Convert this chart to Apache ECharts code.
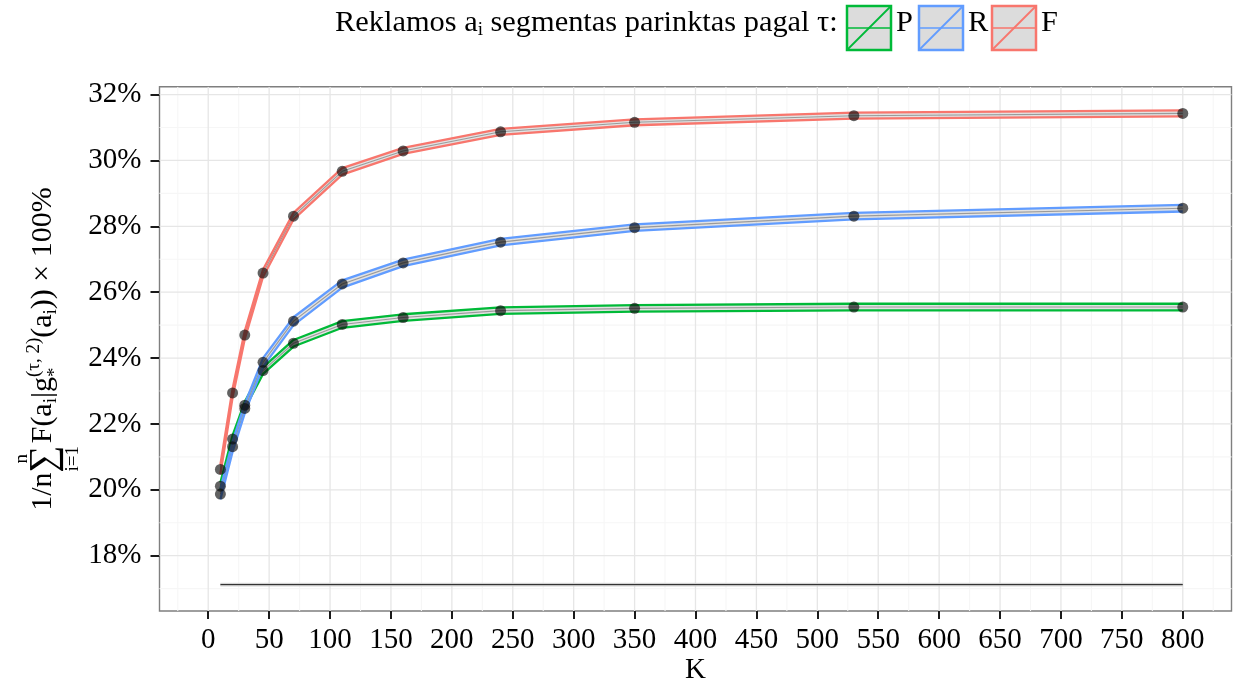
<!DOCTYPE html>
<html>
<head>
<meta charset="utf-8">
<script src="https://cdn.jsdelivr.net/npm/echarts@6/dist/echarts.min.js"></script>
<style>
  html, body { margin: 0; padding: 0; background: #ffffff; }
  #chart { width: 1233px; height: 682px; }
</style>
</head>
<body>
<div id="chart"></div>
<script>
// Segment size K on the horizontal axis
const K = [10, 20, 30, 45, 70, 110, 160, 240, 350, 530, 800];

// Mean share (in %) for each segment selection rule
const valuesP = [20.11, 21.54, 22.57, 23.62, 24.45, 25.02, 25.23, 25.44, 25.51, 25.55, 25.55];
const valuesR = [19.87, 21.31, 22.47, 23.87, 25.12, 26.25, 26.89, 27.52, 27.96, 28.31, 28.55];
const valuesF = [20.62, 22.94, 24.70, 26.58, 28.31, 29.67, 30.29, 30.87, 31.16, 31.36, 31.43];

// Half widths of the confidence bands (in %)
const halfP = [0.11, 0.11, 0.10, 0.10, 0.10, 0.10, 0.10, 0.10, 0.10, 0.10, 0.10];
const halfR = [0.16, 0.15, 0.14, 0.13, 0.12, 0.11, 0.10, 0.10, 0.10, 0.10, 0.10];
const halfF = [0.14, 0.13, 0.12, 0.11, 0.10, 0.10, 0.09, 0.09, 0.09, 0.09, 0.09];

// Reference level (random segment choice)
const baseline = [17.12, 17.12, 17.12, 17.12, 17.12, 17.12, 17.12, 17.12, 17.12, 17.12, 17.12];
const baselineHalf = [0.04, 0.04, 0.04, 0.04, 0.04, 0.04, 0.04, 0.04, 0.04, 0.04, 0.04];

// Tick labels
const xTicks = [0, 50, 100, 150, 200, 250, 300, 350, 400, 450, 500, 550, 600, 650, 700, 750, 800];
const yTicks = [18, 20, 22, 24, 26, 28, 30, 32];

const groups = [
  { name: 'P', color: '#00BA38', values: valuesP, half: halfP },
  { name: 'R', color: '#619CFF', values: valuesR, half: halfR },
  { name: 'F', color: '#F8766D', values: valuesF, half: halfF }
];

// Axis limits
const X_MIN = -40, X_MAX = 840;
const Y_MIN = 16.32, Y_MAX = 32.24;

const FONT = '"Liberation Serif", "Times New Roman", "DejaVu Serif", serif';
const BASE = 29;

// ---- grid lines (major on ticks, minor halfway between) ----
function minorOf(ticks) {
  const step = ticks[1] - ticks[0];
  const out = [ticks[0] - step / 2];
  for (let i = 0; i < ticks.length; i++) out.push(ticks[i] + step / 2);
  return out;
}
const gridData = [];
minorOf(xTicks).forEach(v => { if (v > X_MIN && v < X_MAX) gridData.push({ dir: 'x', v, major: false }); });
minorOf(yTicks).forEach(v => { if (v > Y_MIN && v < Y_MAX) gridData.push({ dir: 'y', v, major: false }); });
xTicks.forEach(v => gridData.push({ dir: 'x', v, major: true }));
yTicks.forEach(v => gridData.push({ dir: 'y', v, major: true }));

const series = [];
series.push({
  type: 'custom',
  z: 1,
  silent: true,
  clip: true,
  data: gridData.map(d => d.dir === 'x' ? [d.v, Y_MIN] : [X_MIN, d.v]),
  renderItem(params, api) {
    const d = gridData[params.dataIndex];
    let p1, p2;
    if (d.dir === 'x') { p1 = api.coord([d.v, Y_MIN]); p2 = api.coord([d.v, Y_MAX]); }
    else { p1 = api.coord([X_MIN, d.v]); p2 = api.coord([X_MAX, d.v]); }
    return {
      type: 'line',
      shape: { x1: p1[0], y1: p1[1], x2: p2[0], y2: p2[1] },
      style: { stroke: d.major ? '#e6e6e6' : '#f6f6f6', lineWidth: d.major ? 1.3 : 1.1 }
    };
  }
});

// ---- confidence band with edges and centre line for one group ----
function addBand(values, half, st) {
  const lower = values.map((v, i) => v - half[i]);
  const upper = values.map((v, i) => v + half[i]);
  series.push({
    type: 'custom',
    z: 2,
    silent: true,
    clip: true,
    data: K.map((k, i) => [k, lower[i], upper[i], values[i]]),
    encode: { x: 0, y: [1, 2] },
    renderItem(params, api) {
      if (params.dataIndex !== 0) return null;
      const top = K.map((k, i) => api.coord([k, upper[i]]));
      const bot = K.map((k, i) => api.coord([k, lower[i]]));
      const mid = K.map((k, i) => api.coord([k, values[i]]));
      return {
        type: 'group',
        children: [
          { type: 'polygon', shape: { points: top.concat(bot.slice().reverse()) },
            style: { fill: st.fill, opacity: st.fillOpacity, stroke: null } },
          { type: 'polyline', shape: { points: mid },
            style: { stroke: st.center, lineWidth: st.centerWidth, fill: null, lineJoin: 'round' } },
          { type: 'polyline', shape: { points: top },
            style: { stroke: st.edge, lineWidth: st.edgeWidth, fill: null, lineJoin: 'round' } },
          { type: 'polyline', shape: { points: bot },
            style: { stroke: st.edge, lineWidth: st.edgeWidth, fill: null, lineJoin: 'round' } }
        ]
      };
    }
  });
}

addBand(baseline, baselineHalf, {
  fill: '#cfcfcf', fillOpacity: 0.8, edge: '#d0d0d0', edgeWidth: 1,
  center: '#333333', centerWidth: 1.4
});
groups.forEach(g => addBand(g.values, g.half, {
  fill: '#d6d6d6', fillOpacity: 0.7, edge: g.color, edgeWidth: 2.3,
  center: '#9a9a9a', centerWidth: 1.1
}));

groups.forEach(g => {
  series.push({
    type: 'scatter',
    z: 5,
    silent: true,
    symbol: 'circle',
    symbolSize: 11,
    itemStyle: { color: 'rgba(10,10,10,0.8)' },
    data: K.map((k, i) => [k, g.values[i]])
  });
});

// ---- text helpers (plain and sub/superscripted runs) ----
const measureCtx = document.createElement('canvas').getContext('2d');
function textWidth(t, size) {
  measureCtx.font = size + 'px ' + FONT;
  return measureCtx.measureText(t).width;
}
function textEl(t, x, y, size) {
  return {
    type: 'text', x, y, silent: true,
    style: { text: t, font: size + 'px ' + FONT, fill: '#000', align: 'left', verticalAlign: 'middle' }
  };
}
// pieces: {t, s, dy} | {stack: true, main, ms, mdy, above, below, ss, ady, bdy} | {script: true, sup, sub, ss, supDy, subDy}
function layoutRun(pieces, base) {
  const els = [];
  let x = 0;
  pieces.forEach(p => {
    if (p.stack) {
      const wm = textWidth(p.main, p.ms), wa = textWidth(p.above, p.ss), wb = textWidth(p.below, p.ss);
      const w = Math.max(wm, wa, wb);
      els.push(textEl(p.main, x + (w - wm) / 2, p.mdy, p.ms));
      els.push(textEl(p.above, x + (w - wa) / 2, p.ady, p.ss));
      els.push(textEl(p.below, x + (w - wb) / 2, p.bdy, p.ss));
      x += w + 2;
    } else if (p.script) {
      const wa = textWidth(p.sup, p.ss), wb = textWidth(p.sub, p.ss);
      els.push(textEl(p.sup, x, p.supDy, p.ss));
      els.push(textEl(p.sub, x, p.subDy, p.ss));
      x += Math.max(wa, wb);
    } else {
      const s = p.s || base;
      els.push(textEl(p.t, x, p.dy || 0, s));
      x += textWidth(p.t, s);
    }
  });
  return { els, width: x };
}

const graphics = [];

// y axis title, rotated, centred on the panel
const yTitle = layoutRun([
  { t: '1/n' },
  { stack: true, main: '\u2211', ms: 38, mdy: 2, above: 'n', below: 'i=1', ss: 19, ady: -21, bdy: 30 },
  { t: 'F(a' },
  { t: 'i', s: 19, dy: 8 },
  { t: '|g' },
  { script: true, sup: '(\u03C4, 2)', sub: '*', ss: 19, supDy: -9, subDy: 12 },
  { t: '(a' },
  { t: 'i', s: 19, dy: 8 },
  { t: ')) \u00D7 100%' }
], 30);
yTitle.els.forEach(e => { e.x -= yTitle.width / 2; });
graphics.push({ type: 'group', x: 43, y: 349, rotation: Math.PI / 2, children: yTitle.els, silent: true });

// x axis title
graphics.push({
  type: 'text', x: 695.5, y: 670, silent: true,
  style: { text: 'K', font: BASE + 'px ' + FONT, fill: '#000', align: 'center', verticalAlign: 'middle' }
});

// legend
const LEG = 30.4;
const legendTitle = layoutRun([
  { t: 'Reklamos a' },
  { t: 'i', s: 19, dy: 7 },
  { t: ' segmentas parinktas pagal \u03C4:' }
], LEG);
legendTitle.els.forEach(e => { e.x += 335; e.y += 23; });
graphics.push({ type: 'group', children: legendTitle.els, silent: true });

const keyX = [847, 919, 992];
groups.forEach((g, i) => {
  const x0 = keyX[i], y0 = 6, w = 44, h = 44;
  graphics.push({
    type: 'rect', silent: true,
    shape: { x: x0, y: y0, width: w, height: h },
    style: { fill: '#dcdcdc', stroke: g.color, lineWidth: 2.5 }
  });
  graphics.push({
    type: 'line', silent: true,
    shape: { x1: x0 + 1, y1: y0 + h / 2, x2: x0 + w - 1, y2: y0 + h / 2 },
    style: { stroke: g.color, lineWidth: 1.4 }
  });
  graphics.push({
    type: 'line', silent: true,
    shape: { x1: x0 + 1, y1: y0 + h - 1, x2: x0 + w - 1, y2: y0 + 1 },
    style: { stroke: g.color, lineWidth: 1.8 }
  });
  graphics.push({
    type: 'text', silent: true, x: x0 + w + 5, y: 23,
    style: { text: g.name, font: LEG + 'px ' + FONT, fill: '#000', align: 'left', verticalAlign: 'middle' }
  });
});

const option = {
  animation: false,
  backgroundColor: '#ffffff',
  grid: {
    left: 159.5, right: 1.5, top: 86.7, bottom: 71,
    containLabel: false,
    outerBoundsMode: 'none',
    show: true,
    backgroundColor: '#ffffff',
    borderColor: '#7f7f7f',
    borderWidth: 1.4
  },
  xAxis: {
    type: 'value',
    min: X_MIN, max: X_MAX,
    axisLine: { show: false, onZero: false },
    splitLine: { show: false },
    axisTick: { show: true, length: 8, lineStyle: { color: '#1a1a1a', width: 2 }, customValues: xTicks },
    axisLabel: {
      customValues: xTicks,
      margin: 15,
      fontFamily: FONT, fontSize: BASE, color: '#000'
    }
  },
  yAxis: {
    type: 'value',
    min: Y_MIN, max: Y_MAX,
    axisLine: { show: false, onZero: false },
    splitLine: { show: false },
    axisTick: { show: true, length: 9, lineStyle: { color: '#1a1a1a', width: 2 }, customValues: yTicks },
    axisLabel: {
      customValues: yTicks,
      margin: 18,
      fontFamily: FONT, fontSize: BASE, color: '#000',
      formatter: v => Math.round(v) + '%'
    }
  },
  graphic: graphics,
  series
};

const chart = echarts.init(document.getElementById('chart'), null, { renderer: 'canvas', width: 1233, height: 682 });
chart.setOption(option);
</script>
</body>
</html>
